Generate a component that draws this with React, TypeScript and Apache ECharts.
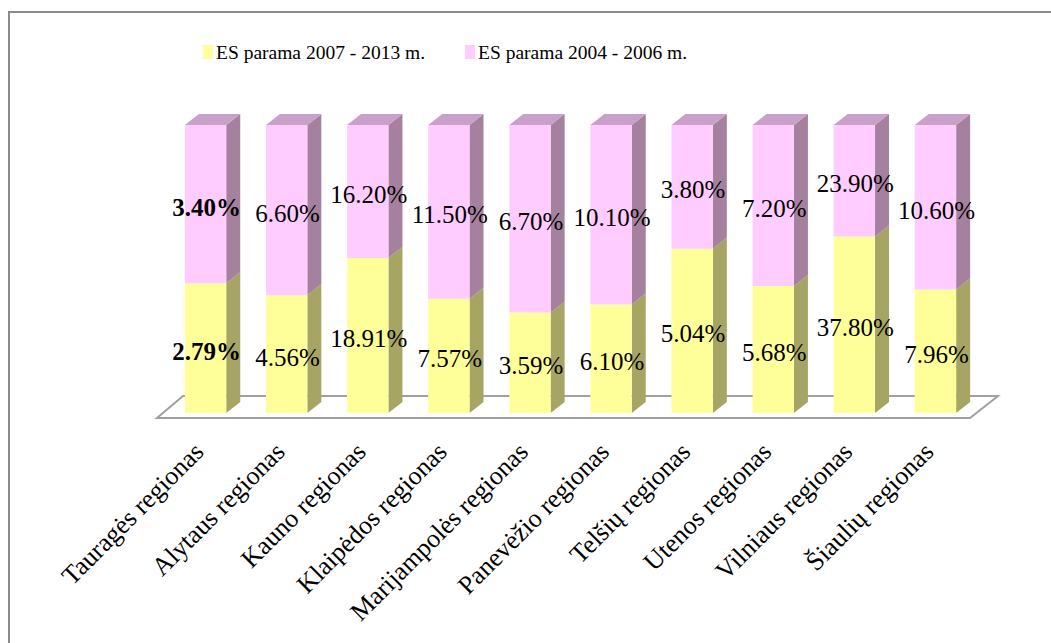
import React, { useEffect, useRef } from "react";
import * as echarts from "echarts";

const categories = [
  "Tauragės regionas",
  "Alytaus regionas",
  "Kauno regionas",
  "Klaipėdos regionas",
  "Marijampolės regionas",
  "Panevėžio regionas",
  "Telšių regionas",
  "Utenos regionas",
  "Vilniaus regionas",
  "Šiaulių regionas",
];
const seriesNames = ["ES parama 2007 - 2013 m.", "ES parama 2004 - 2006 m."];
const es2007 = [2.79, 4.56, 18.91, 7.57, 3.59, 6.1, 5.04, 5.68, 37.8, 7.96];
const es2004 = [3.4, 6.6, 16.2, 11.5, 6.7, 10.1, 3.8, 7.2, 23.9, 10.6];

const FONT = "Liberation Serif";
const DX = 14;
const DY = 11;

const faceColors = [
  { front: "#FFFF99", side: "#A6A563", top: "#CCCC7A" },
  { front: "#FFCCFF", side: "#A5819F", top: "#C9A0C9" },
];

function makeRender(seriesIdx: number, isTop: boolean) {
  return (params: any, api: any) => {
    const idx = api.value(0);
    const start = api.value(1);
    const end = api.value(2);
    const p0 = api.coord([idx, start]);
    const p1 = api.coord([idx, end]);
    const band = api.size([1, 0])[0];
    const w = band * 0.51;
    const xl = p0[0] - w / 2;
    const xr = p0[0] + w / 2;
    const yb = p0[1];
    const yt = p1[1];
    const c = faceColors[seriesIdx];
    const children: any[] = [
      {
        type: "polygon",
        shape: {
          points: [
            [xr, yt],
            [xr + DX, yt - DY],
            [xr + DX, yb - DY],
            [xr, yb],
          ],
        },
        style: { fill: c.side, stroke: null },
      },
      {
        type: "rect",
        shape: { x: xl, y: yt, width: w, height: yb - yt },
        style: { fill: c.front, stroke: null },
      },
    ];
    if (isTop) {
      children.push({
        type: "polygon",
        shape: {
          points: [
            [xl, yt],
            [xl + DX, yt - DY],
            [xr + DX, yt - DY],
            [xr, yt],
          ],
        },
        style: { fill: c.top, stroke: null },
      });
    }
    return { type: "group", children };
  };
}

function labelSeries(data: number[][]) {
  return {
    type: "scatter",
    symbolSize: 1,
    itemStyle: { color: "rgba(0,0,0,0)" },
    silent: true,
    z: 5,
    data: data.map((d, i) => ({
      value: [d[0], d[1], d[2]],
      label: { fontWeight: i === 0 ? "bold" : "normal" },
    })),
    label: {
      show: true,
      position: "inside",
      offset: [1, 3],
      fontFamily: FONT,
      fontSize: 25,
      color: "#000000",
      textBorderWidth: 0,
      opacity: 1,
      formatter: (p: any) => Number(p.value[2]).toFixed(2) + "%",
    },
  };
}

export default function App() {
  const ref = useRef<HTMLDivElement>(null);
  useEffect(() => {
    if (!ref.current) return;
    const chart = echarts.init(ref.current, null, { renderer: "svg" });
    const totals = categories.map((_, i) => es2007[i] + es2004[i]);
    const share = categories.map((_, i) => (es2007[i] / totals[i]) * 100);
    const d1 = categories.map((_, i) => [i, 0, share[i]]);
    const d2 = categories.map((_, i) => [i, share[i], 100]);
    const l1 = categories.map((_, i) => [i, share[i] / 2, es2007[i]]);
    const l2 = categories.map((_, i) => [i, (share[i] + 100) / 2, es2004[i]]);

    chart.setOption({
      animation: false,
      color: [faceColors[0].front, faceColors[1].front],
      legend: {
        left: 203,
        top: 42,
        padding: 0,
        itemWidth: 10,
        itemHeight: 14,
        itemGap: 40,
        icon: "rect",
        data: seriesNames,
        textStyle: { fontFamily: FONT, fontSize: 19.5, color: "#000", padding: [0, 0, 0, -2] },
      },
      grid: { left: 165, right: 75, top: 125, bottom: 230 },
      xAxis: {
        type: "category",
        data: categories,
        axisLine: { show: false },
        axisTick: { show: false },
        axisLabel: {
          rotate: 45,
          interval: 0,
          margin: 28,
          fontFamily: FONT,
          fontSize: 26,
          color: "#000",
          padding: [0, 9, 0, 0],
        },
      },
      yAxis: {
        type: "value",
        min: 0,
        max: 100,
        show: false,
      },
      graphic: [
        {
          type: "polyline",
          z: -10,
          shape: { points: [[9, 643], [9, 12], [1051, 12]] },
          style: { stroke: "#8C8C8C", lineWidth: 2, fill: null },
        },
        {
          type: "polygon",
          z: -10,
          shape: { points: [[157, 418], [183, 396], [998, 396], [970, 418]] },
          style: { stroke: "#A0A0A0", lineWidth: 2, fill: "#fff" },
        },
      ],
      series: [
        {
          name: seriesNames[0],
          type: "custom",
          renderItem: makeRender(0, false),
          encode: { x: 0, y: [1, 2] },
          data: d1,
          z: 2,
        },
        {
          name: seriesNames[1],
          type: "custom",
          renderItem: makeRender(1, true),
          encode: { x: 0, y: [1, 2] },
          data: d2,
          z: 3,
        },
        labelSeries(l1),
        labelSeries(l2),
      ],
    });
    return () => chart.dispose();
  }, []);
  return <div ref={ref} style={{ width: 1051, height: 643, position: "absolute", left: 0, top: 0, background: "#fff" }} />;
}
